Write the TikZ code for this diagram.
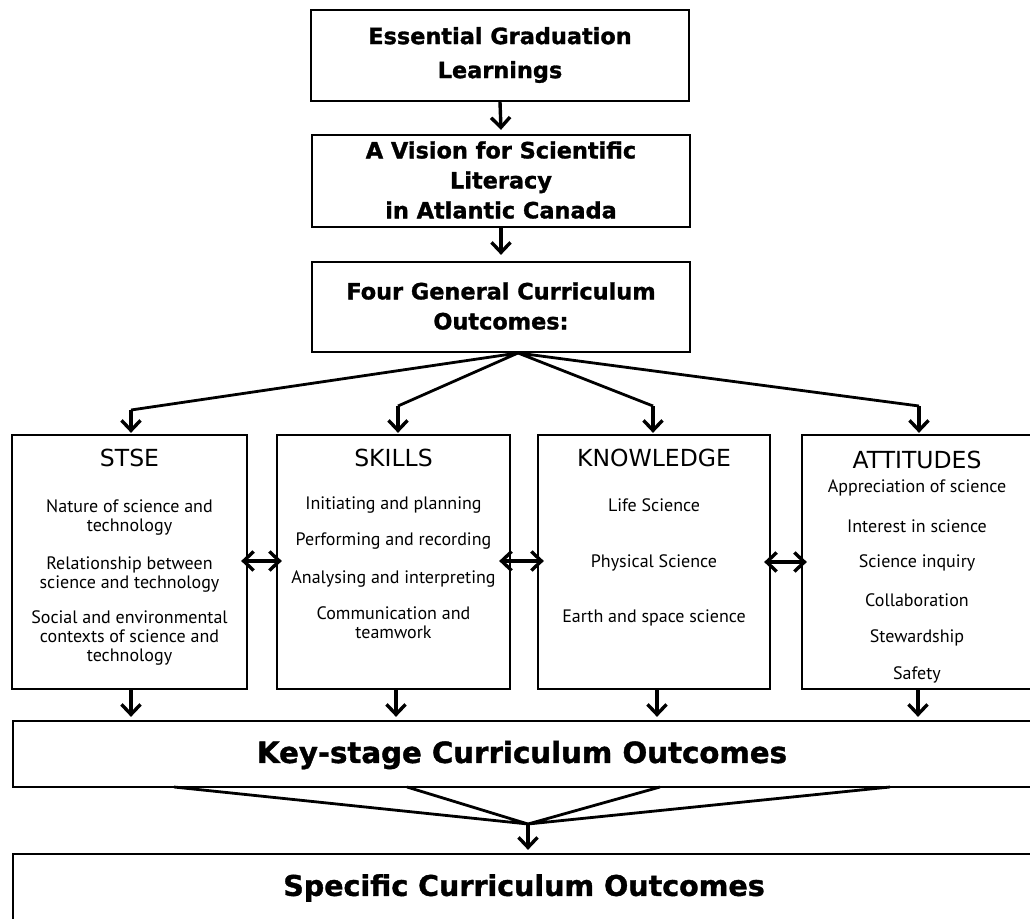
\documentclass[tikz,border=0pt]{standalone}
\usepackage{fontspec}
\setmainfont{PT Sans}
\newfontfamily\hfont{DejaVu Sans}[BoldFeatures={FakeBold=1.3}]
\usetikzlibrary{arrows.meta}
\begin{document}
\begin{tikzpicture}[x=1pt,y=-1pt,
  box/.style={draw, line width=2.3pt, inner sep=0pt},
  conn/.style={line width=2.8pt},
  arr/.style={line width=3.4pt, -{Straight Barb[length=10pt,width=19pt]}},
  darr/.style={line width=3.4pt, {Straight Barb[length=10pt,width=19pt]}-{Straight Barb[length=10pt,width=19pt]}},
  head/.style={font=\hfont\bfseries\fontsize{22.4}{30}\selectfont, align=center},
  big/.style={font=\hfont\bfseries\fontsize{29.2}{30}\selectfont},
  title/.style={font=\hfont\fontsize{23.5}{24}\selectfont},
  item/.style={font=\fontsize{18}{19}\selectfont, align=center, inner sep=0pt},
]
\useasboundingbox (0,0) rectangle (1030,918);
\fill[white] (0,0) rectangle (1030,918);
\clip (0,0) rectangle (1030,918);
% top boxes
\node[box, minimum width=378pt, minimum height=91pt] (egl) at (500,55.5) {};
\node[head, font=\hfont\bfseries\fontsize{22.4}{34}\selectfont] (egltext) at (500,55) {Essential Graduation\\Learnings};
\node[box, minimum width=378pt, minimum height=92pt] (vis) at (501,181) {};
\node[head] (vistext) at (501,180) {A Vision for Scientific\\Literacy\\in Atlantic Canada};
\node[box, minimum width=378pt, minimum height=90pt] (four) at (501,307) {};
\node[head] (fourtext) at (501,306) {Four General Curriculum\\Outcomes:};
\draw[arr] (egl.south) -- ([yshift=4pt]vis.north);
\draw[arr] (vis.south) -- ([yshift=6pt]four.north);
% row boxes
\node[box, minimum width=235pt, minimum height=254pt] (stse) at (129.5,562) {};
\node[box, minimum width=233pt, minimum height=254pt] (skills) at (393.5,562) {};
\node[box, minimum width=232pt, minimum height=254pt] (know) at (654,562) {};
\node[box, minimum width=240pt, minimum height=254pt] (att) at (922,562) {};
% fan
\coordinate (apex) at (518,353);
\coordinate (f1) at (131,410);
\coordinate (f2) at (398,406);
\coordinate (f3) at (653,406);
\coordinate (f4) at (919,406);
\draw[conn, line join=round] (f1) -- (apex) -- (f2);
\draw[conn, line join=round] (f3) -- (apex) -- (f4);
\draw[arr] (f1) -- ([yshift=1pt]f1 |- stse.north);
\draw[arr] (f2) -- ([yshift=1pt]f2 |- skills.north);
\draw[arr] (f3) -- ([yshift=1pt]f3 |- know.north);
\draw[arr] (f4) -- ([yshift=1pt]f4 |- att.north);
% titles
\node[title] (stset) at (129.5,458) {STSE};
\node[title] (skillst) at (393.5,458) {SKILLS};
\node[title] (knowt) at (654,458) {KNOWLEDGE};
\node[title] (attt) at (917,460) {ATTITUDES};
% STSE items
\node[item] (s1) at (129.5,518) {Nature of science and\\technology};
\node[item] (s2) at (129.5,575) {Relationship between\\science and technology};
\node[item] (s3) at (129.5,638) {Social and environmental\\contexts of science and\\technology};
% SKILLS items
\node[item] (k1) at (393.5,505) {Initiating and planning};
\node[item] (k2) at (393.5,541) {Performing and recording};
\node[item] (k3) at (393.5,579) {Analysing and interpreting};
\node[item] (k4) at (393.5,623) {Communication and\\teamwork};
% KNOWLEDGE items
\node[item] (n1) at (654,505) {Life Science};
\node[item] (n2) at (654,563) {Physical Science};
\node[item] (n3) at (654,618) {Earth and space science};
% ATTITUDES items
\node[item] (a1) at (917,488) {Appreciation of science};
\node[item] (a2) at (917,526) {Interest in science};
\node[item] (a3) at (917,563) {Science inquiry};
\node[item] (a4) at (917,600) {Collaboration};
\node[item] (a5) at (917,638) {Stewardship};
\node[item] (a6) at (917,675) {Safety};
% double arrows
\draw[darr] ([xshift=-7pt,yshift=1pt]stse.east) -- ([xshift=6pt,yshift=1pt]skills.west);
\draw[darr] ([xshift=-12pt,yshift=1pt]skills.east) -- ([xshift=7pt,yshift=1pt]know.west);
\draw[darr] ([xshift=-7pt]know.east) -- ([xshift=6pt]att.west);
% key-stage
\node[box, minimum width=1030pt, minimum height=66pt] (key) at (528,754) {};
\node[big] (keytext) at (522,755) {Key-stage Curriculum Outcomes};
\coordinate (b1) at (131,689);
\coordinate (b2) at (396,689);
\coordinate (b3) at (657,689);
\coordinate (b4) at (918,689);
\draw[arr] (b1) -- ([yshift=3pt]b1 |- key.north);
\draw[arr] (b2) -- ([yshift=3pt]b2 |- key.north);
\draw[arr] (b3) -- ([yshift=3pt]b3 |- key.north);
\draw[arr] (b4) -- ([yshift=3pt]b4 |- key.north);
% converging lines
\coordinate (apex2) at (528,824);
\coordinate (c1) at (174,787);
\coordinate (c2) at (407,787);
\coordinate (c3) at (660,787);
\coordinate (c4) at (890,787);
\draw[conn, line join=round] (c1) -- (apex2) -- (c2);
\draw[conn, line join=round] (c3) -- (apex2) -- (c4);
% specific
\node[box, minimum width=1030pt, minimum height=120pt] (spec) at (528,914) {};
\node[big, font=\hfont\bfseries\fontsize{28.5}{30}\selectfont] (spectext) at (524,888) {Specific Curriculum Outcomes};
\draw[arr] (apex2) -- ([yshift=3pt]spec.north -| apex2);
\end{tikzpicture}
\end{document}
